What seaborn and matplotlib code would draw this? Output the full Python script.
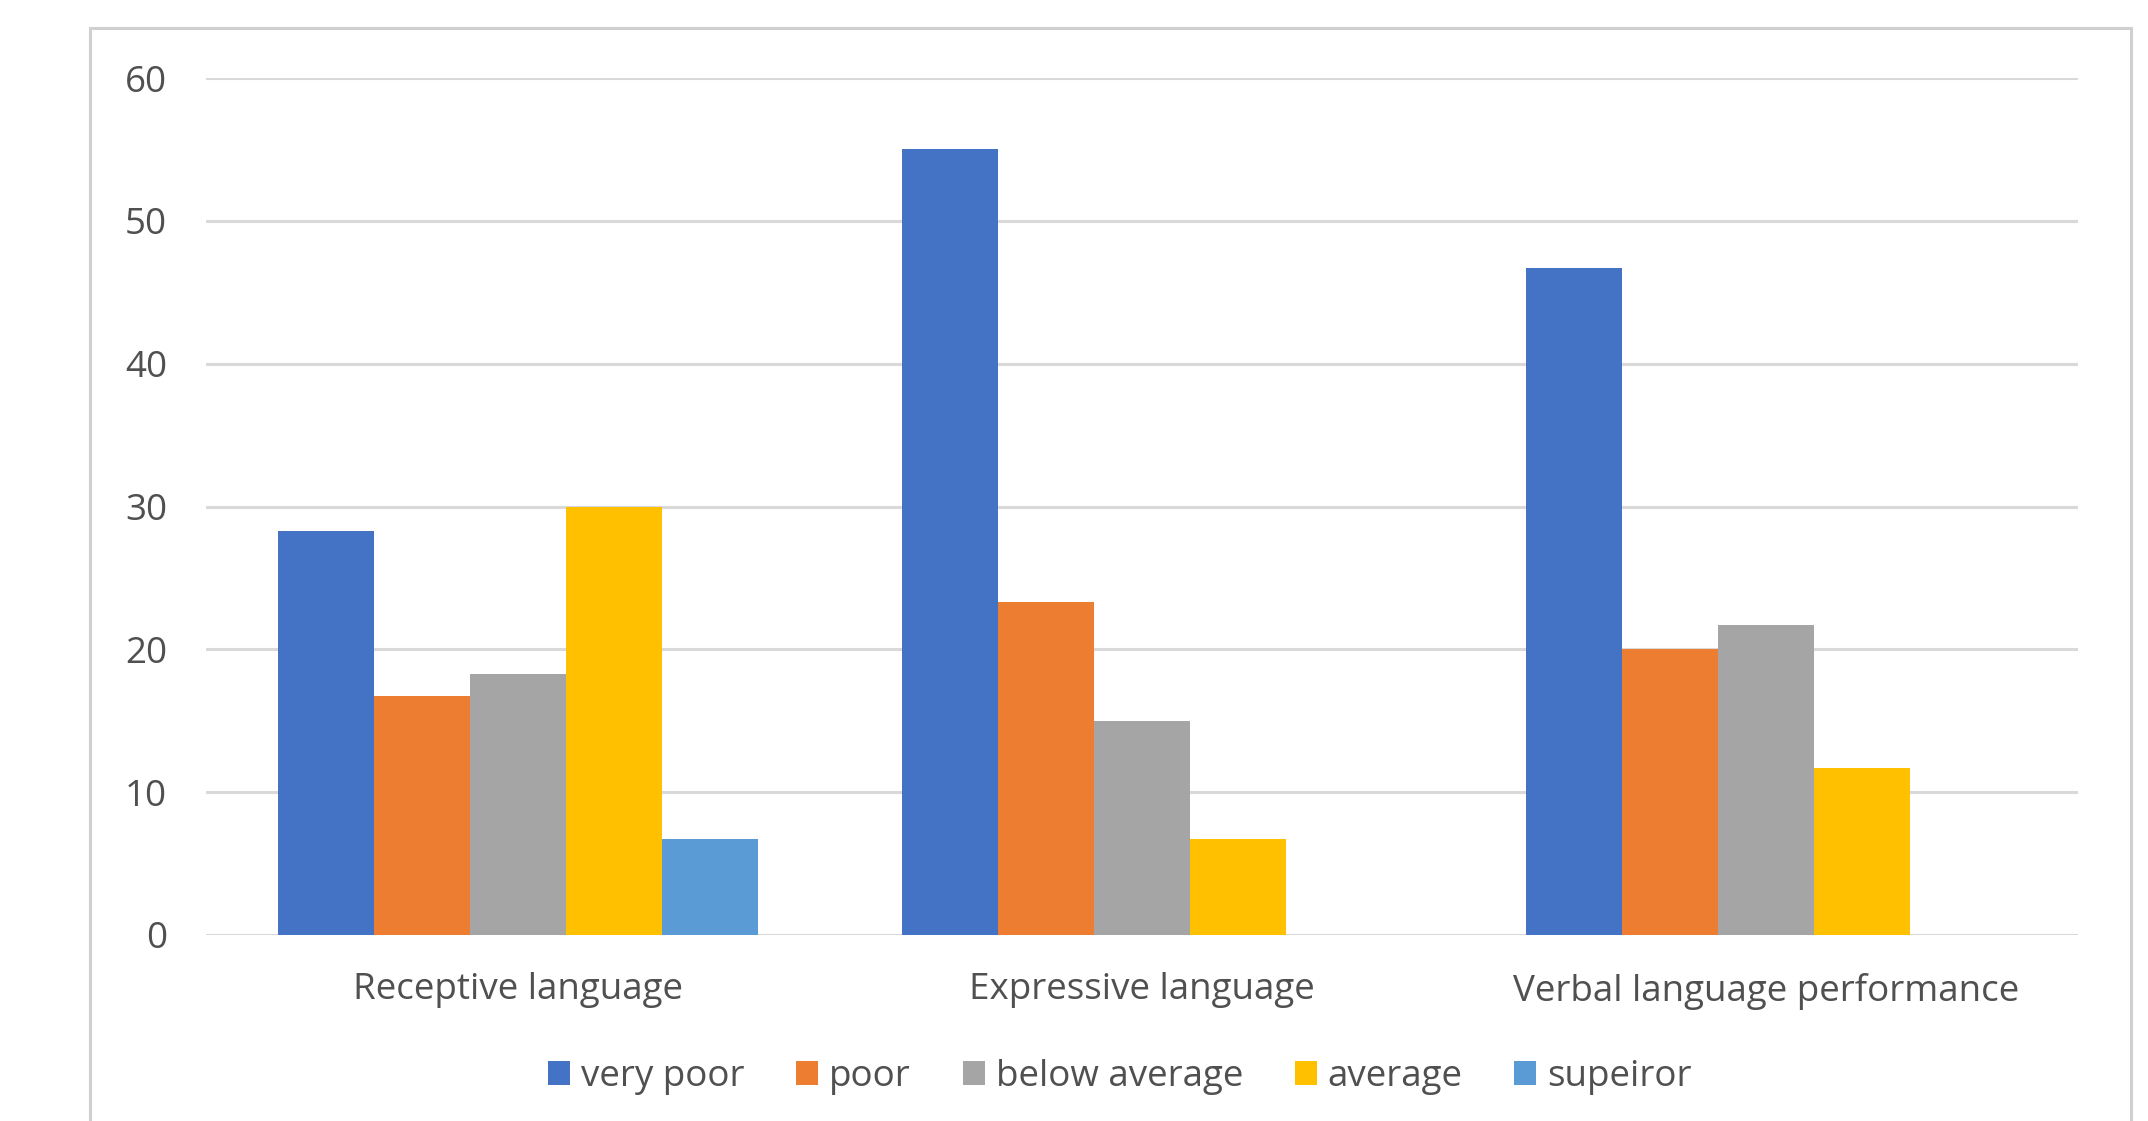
import matplotlib
matplotlib.use("Agg")
import matplotlib.pyplot as plt
from matplotlib.patches import Rectangle
import seaborn as sns
import pandas as pd

# Share of children (%) in each rating band, per language domain
domains = ["Receptive language", "Expressive language", "Verbal language performance"]
levels = ["very poor", "poor", "below average", "average", "supeiror"]
very_poor = [28.3, 55.0, 46.7]
poor = [16.7, 23.3, 20.0]
below_average = [18.3, 15.0, 21.7]
average = [30.0, 6.7, 11.7]
superior = [6.7, 0.0, 0.0]
colors = ["#4472C4", "#ED7D31", "#A5A5A5", "#FFC000", "#5B9BD5"]
y_ticks = [0, 10, 20, 30, 40, 50, 60]

series = [very_poor, poor, below_average, average, superior]
rows = []
for level, vals in zip(levels, series):
    for d, v in zip(domains, vals):
        rows.append({"domain": d, "level": level, "value": v})
df = pd.DataFrame(rows)

sns.set_theme(style="white")
plt.rcParams["font.family"] = ["Open Sans", "DejaVu Sans"]
text_color = "#505050"
grid_color = "#D9D9D9"

fig = plt.figure(figsize=(21.48, 11.21), dpi=100)
ax = fig.add_axes([206 / 2148, 1 - 935 / 1121, (2078 - 206) / 2148, (935 - 78) / 1121])

sns.barplot(data=df, x="domain", y="value", hue="level", order=domains,
            hue_order=levels, palette=colors, width=0.77, linewidth=0,
            saturation=1, ax=ax, legend=True)

ax.set_xlim(-0.5, 2.5)
ax.set_ylim(0, 60)
ax.set_yticks(y_ticks)
ax.set_yticklabels([str(t) for t in y_ticks])
ax.set_xlabel("")
ax.set_ylabel("")
ax.yaxis.grid(True, color=grid_color, linewidth=2.2)
ax.set_axisbelow(True)
for s in ax.spines.values():
    s.set_visible(False)
ax.tick_params(axis="y", length=0, pad=28, labelsize=26.5, labelcolor=text_color)
ax.tick_params(axis="x", length=0, pad=27, labelsize=26.5, labelcolor=text_color)
for lbl in ax.get_xticklabels() + ax.get_yticklabels():
    lbl.set_fontweight("medium")

handles, labels = ax.get_legend_handles_labels()
ax.get_legend().remove()
leg = fig.legend(handles, labels, loc="center", bbox_to_anchor=(1120 / 2148, 1 - 1077 / 1121),
                 ncol=5, frameon=False, fontsize=26.5, handlelength=0.6, handleheight=0.6,
                 handletextpad=0.3, columnspacing=1.4, labelcolor=text_color)
for t in leg.get_texts():
    t.set_fontweight("medium")

# chart area border
fig.patches.append(Rectangle((90 / 2148, -0.1), (2131 - 90) / 2148, 1.1 - 28 / 1121,
                             transform=fig.transFigure, fill=False,
                             edgecolor="#D0D0D0", linewidth=2.2))

fig.savefig("out.png", dpi=100, facecolor="white")
